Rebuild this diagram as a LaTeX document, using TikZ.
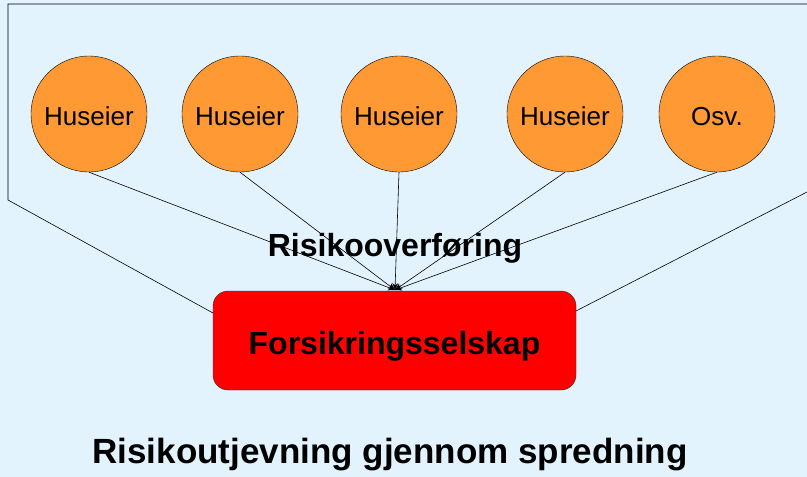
\documentclass[tikz,border=0pt]{standalone}
\usepackage{fontspec}
\setmainfont{Liberation Sans}
\usetikzlibrary{arrows.meta}
\definecolor{bgblue}{HTML}{E3F3FD}
\definecolor{orng}{HTML}{FF9933}
\begin{document}
\begin{tikzpicture}[x=1pt,y=-1pt,
  owner/.style={circle,draw=black,fill=orng,minimum size=116pt,inner sep=0pt,
    text height=22pt,text depth=0pt,
    font=\fontsize{26}{30}\selectfont},
  company/.style={rectangle,rounded corners=15pt,draw=black!80,fill=red,
    minimum width=363pt,minimum height=99pt,inner sep=0pt,
    text height=28pt,text depth=0pt,
    font=\fontsize{32}{36}\selectfont\bfseries},
  link/.style={draw=black,line width=0.6pt,-{Stealth[length=7pt,width=6pt]}},
  frame/.style={draw=black,line width=0.6pt},
  title/.style={font=\fontsize{32}{36}\selectfont\bfseries,inner sep=0pt},
  bigtitle/.style={font=\fontsize{35}{40}\selectfont\bfseries,inner sep=0pt}]
\fill[bgblue] (0,0) rectangle (807,477);
\useasboundingbox (0,0) rectangle (807,477);
\node[owner] (h1) at (89,114) {Huseier};
\node[owner] (h2) at (240,114) {Huseier};
\node[owner] (h3) at (399,114) {Huseier};
\node[owner] (h4) at (565,114) {Huseier};
\node[owner] (h5) at (717,114) {Osv.};
\node[company] (fs) at (394.5,340.5) {Forsikringsselskap};
\coordinate (hub) at (395,290);
\coordinate (tl) at (8,4);
\coordinate (tr) at (807,4);
\coordinate (bl) at (8,200);
\coordinate (br) at (807,192);
\coordinate (fl) at (213,313);
\coordinate (fr) at (576,311);
\draw[frame] (tr) -- (tl) -- (bl) -- (fl);
\draw[frame] (fr) -- (br);
\foreach \n in {h1,h2,h3,h4,h5} \draw[link] (\n.south) -- (hub);
\node[title] (ro) at (395,248) {Risikooverføring};
\node[bigtitle] (rs) at (390,455) {Risikoutjevning gjennom spredning};
\end{tikzpicture}
\end{document}
